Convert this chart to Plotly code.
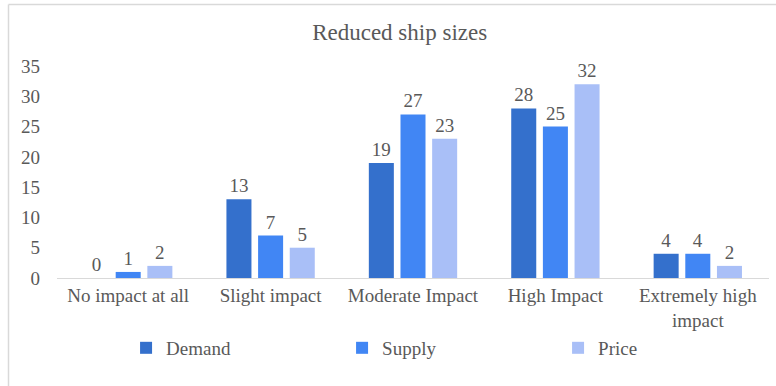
import plotly.graph_objects as go

categories = ["No impact at all", "Slight impact", "Moderate Impact", "High Impact",
              "Extremely high<br>impact"]
demand = [0, 13, 19, 28, 4]
supply = [1, 7, 27, 25, 4]
price = [2, 5, 23, 32, 2]

series = [("Demand", demand, "#3470CC"),
          ("Supply", supply, "#4186F4"),
          ("Price", price, "#A9BFF7")]

FONT = "Times New Roman, Liberation Serif, DejaVu Serif, serif"
TEXT = "#595959"

fig = go.Figure()
for name, vals, color in series:
    fig.add_trace(go.Bar(
        name=name, x=categories, y=vals,
        marker=dict(color=color, line=dict(width=0)),
        text=vals, textposition="outside", cliponaxis=False,
        textfont=dict(family=FONT, size=19, color=TEXT),
    ))

fig.update_layout(
    width=776, height=386,
    margin=dict(l=57, r=7, t=66, b=108, autoexpand=False),
    paper_bgcolor="white", plot_bgcolor="white",
    font=dict(family=FONT, size=19, color=TEXT),
    title=dict(text="Reduced ship sizes", x=0.515, xanchor="center",
               y=1 - 32 / 386, yanchor="middle",
               font=dict(family=FONT, size=23, color=TEXT)),
    barmode="group", bargap=0.333, bargroupgap=0.21,
    showlegend=True,
    legend=dict(orientation="h", x=0.097, xanchor="left", y=-0.33, yanchor="middle",
                entrywidth=171, entrywidthmode="pixels",
                font=dict(family=FONT, size=19, color=TEXT),
                bgcolor="rgba(0,0,0,0)"),
    xaxis=dict(showgrid=False, showline=True, linecolor="#D9D9D9", linewidth=1,
               ticks="", tickfont=dict(family=FONT, size=19, color=TEXT)),
    yaxis=dict(range=[0, 35], dtick=5, showgrid=False, zeroline=False, showline=False,
               ticks="", ticklabelstandoff=16,
               tickfont=dict(family=FONT, size=19, color=TEXT)),
    shapes=[
        dict(type="line", xref="paper", yref="paper",
             x0=(8.5 - 57) / 712, x1=(776 - 57) / 712,
             y0=1 + (66 - 4.5) / 212, y1=1 + (66 - 4.5) / 212,
             line=dict(color="#D9D9D9", width=1.5)),
        dict(type="line", xref="paper", yref="paper",
             x0=(8.5 - 57) / 712, x1=(8.5 - 57) / 712,
             y0=1 + (66 - 4.5) / 212, y1=-(386 - 278) / 212,
             line=dict(color="#D9D9D9", width=1.5)),
    ],
)

fig.write_html("out.html")
